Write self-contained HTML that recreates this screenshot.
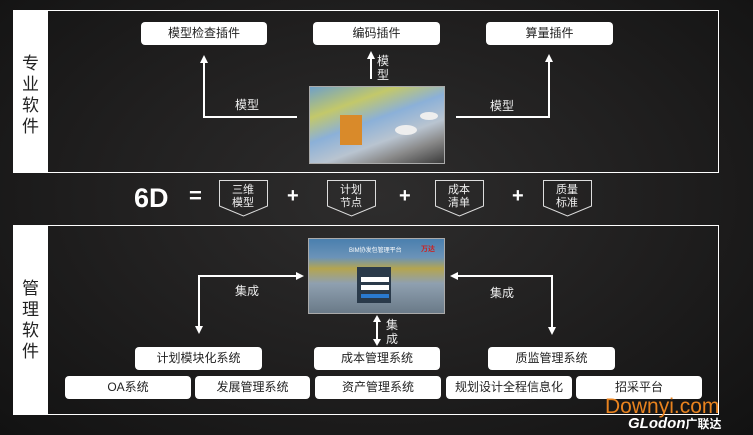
<!DOCTYPE html>
<html><head><meta charset="utf-8"><style>
*{margin:0;padding:0;box-sizing:border-box}
body{width:753px;height:435px;overflow:hidden;position:relative;background:radial-gradient(ellipse at 50% 45%,#2e2d2d 0%,#1f1e1e 55%,#121212 100%);font-family:"Liberation Sans","Noto Sans CJK SC",sans-serif;color:#fff}
.a{position:absolute}
.panel{position:absolute;border:1px solid #fff}
.strip{position:absolute;background:#fff;color:#222;font-size:17px;line-height:21px;text-align:center}
.box{position:absolute;background:#fff;color:#222;border-radius:4px;font-size:12px;text-align:center;line-height:23px;height:23px}
.lbl{position:absolute;font-size:12px;color:#eee;line-height:14px}
.plus{position:absolute;font-size:20px;font-weight:bold;color:#fff}
</style></head><body>
<div class="panel" style="left:13px;top:10px;width:706px;height:163px"></div>
<div class="strip" style="left:13px;top:10px;width:35px;height:163px;padding-top:43px">专<br>业<br>软<br>件</div>
<div class="box" style="left:141px;top:22px;width:126px">模型检查插件</div>
<div class="box" style="left:313px;top:22px;width:127px">编码插件</div>
<div class="box" style="left:486px;top:22px;width:127px">算量插件</div>
<div class="a" style="left:309px;top:86px;width:136px;height:78px;border:1px solid #aaa;background:linear-gradient(160deg,#6fa0c8 0%,#c3c86a 25%,#8bb0d8 45%,#b9c4d0 65%,#8a8a8a 80%,#3a3a3a 100%)">
<div class="a" style="left:30px;top:28px;width:22px;height:30px;background:#d98a2a"></div>
<div class="a" style="left:85px;top:38px;width:22px;height:10px;border-radius:50%;background:#eee"></div>
<div class="a" style="left:110px;top:25px;width:18px;height:8px;border-radius:50%;background:#eee"></div>
</div>
<svg class="a" style="left:0;top:0" width="753" height="435">
<g stroke="#fff" stroke-width="2" fill="none">
<polyline points="297,117 204,117 204,62"/>
<line x1="371" y1="79" x2="371" y2="58"/>
<polyline points="456,117 549,117 549,61"/>
<polyline points="297,276 199,276 199,327"/>
<polyline points="457,276 552,276 552,328"/>
<line x1="377" y1="321" x2="377" y2="340"/>
</g>
<g fill="#fff">
<polygon points="200,63 208,63 204,55"/>
<polygon points="367,59 375,59 371,51"/>
<polygon points="545,62 553,62 549,54"/>
<polygon points="296,272 296,280 304,276"/>
<polygon points="195,326 203,326 199,334"/>
<polygon points="458,272 458,280 450,276"/>
<polygon points="548,327 556,327 552,335"/>
<polygon points="373,322 381,322 377,315"/>
<polygon points="373,339 381,339 377,346"/>
</g>
<g fill="none" stroke="#ddd" stroke-width="1">
<polygon points="219.5,180.5 267.5,180.5 267.5,206 243.5,216 219.5,206"/>
<polygon points="327.5,180.5 375.5,180.5 375.5,206 351.5,216 327.5,206"/>
<polygon points="435.5,180.5 483.5,180.5 483.5,206 459.5,216 435.5,206"/>
<polygon points="543.5,180.5 591.5,180.5 591.5,206 567.5,216 543.5,206"/>
</g>
</svg>
<div class="lbl" style="left:235px;top:98px">模型</div>
<div class="lbl" style="left:377px;top:54px;line-height:14px">模<br>型</div>
<div class="lbl" style="left:490px;top:99px">模型</div>
<div class="a" style="left:134px;top:183px;font-size:27px;font-weight:bold">6D</div>
<div class="a" style="left:189px;top:183px;font-size:22px;font-weight:bold">=</div>
<div class="lbl" style="left:232px;top:184px;font-size:11px;line-height:13px">三维<br>模型</div>
<div class="lbl" style="left:340px;top:184px;font-size:11px;line-height:13px">计划<br>节点</div>
<div class="lbl" style="left:448px;top:184px;font-size:11px;line-height:13px">成本<br>清单</div>
<div class="lbl" style="left:556px;top:184px;font-size:11px;line-height:13px">质量<br>标准</div>
<div class="plus" style="left:287px;top:185px">+</div>
<div class="plus" style="left:399px;top:185px">+</div>
<div class="plus" style="left:512px;top:185px">+</div>

<div class="panel" style="left:13px;top:225px;width:706px;height:190px"></div>
<div class="strip" style="left:13px;top:225px;width:35px;height:190px;padding-top:53px">管<br>理<br>软<br>件</div>
<div class="a" style="left:308px;top:238px;width:137px;height:76px;border:1px solid #aaa;background:linear-gradient(180deg,#4a7fae 0%,#6b93b8 25%,#b4a550 40%,#8fa0b0 60%,#6a7a88 100%)">
<div class="a" style="left:40px;top:6px;font-size:6px;color:#fff">BIM协发包管理平台</div>
<div class="a" style="left:48px;top:28px;width:34px;height:36px;background:#2a3a4a"></div>
<div class="a" style="left:52px;top:38px;width:28px;height:5px;background:#fff"></div>
<div class="a" style="left:52px;top:46px;width:28px;height:5px;background:#fff"></div>
<div class="a" style="left:52px;top:55px;width:28px;height:4px;background:#2a7ad0"></div>
<div class="a" style="left:112px;top:5px;width:20px;height:8px;font-size:7px;color:#c22;font-weight:bold">万达</div>
</div>
<div class="lbl" style="left:235px;top:284px">集成</div>
<div class="lbl" style="left:490px;top:286px">集成</div>
<div class="lbl" style="left:386px;top:318px">集<br>成</div>
<div class="box" style="left:135px;top:347px;width:127px">计划模块化系统</div>
<div class="box" style="left:314px;top:347px;width:126px">成本管理系统</div>
<div class="box" style="left:488px;top:347px;width:127px">质监管理系统</div>
<div class="box" style="left:65px;top:376px;width:126px">OA系统</div>
<div class="box" style="left:195px;top:376px;width:115px">发展管理系统</div>
<div class="box" style="left:315px;top:376px;width:126px">资产管理系统</div>
<div class="box" style="left:446px;top:376px;width:126px">规划设计全程信息化</div>
<div class="box" style="left:576px;top:376px;width:126px">招采平台</div>
<div class="a" style="left:605px;top:396px;font-size:21px;color:#e8821e;line-height:22px">Downyi.com</div>
<div class="a" style="left:628px;top:416px;font-size:15px;font-weight:bold;font-style:italic;color:#fff;line-height:16px">GLodon<span style="font-size:12px;font-style:normal">广联达</span></div>
</body></html>
